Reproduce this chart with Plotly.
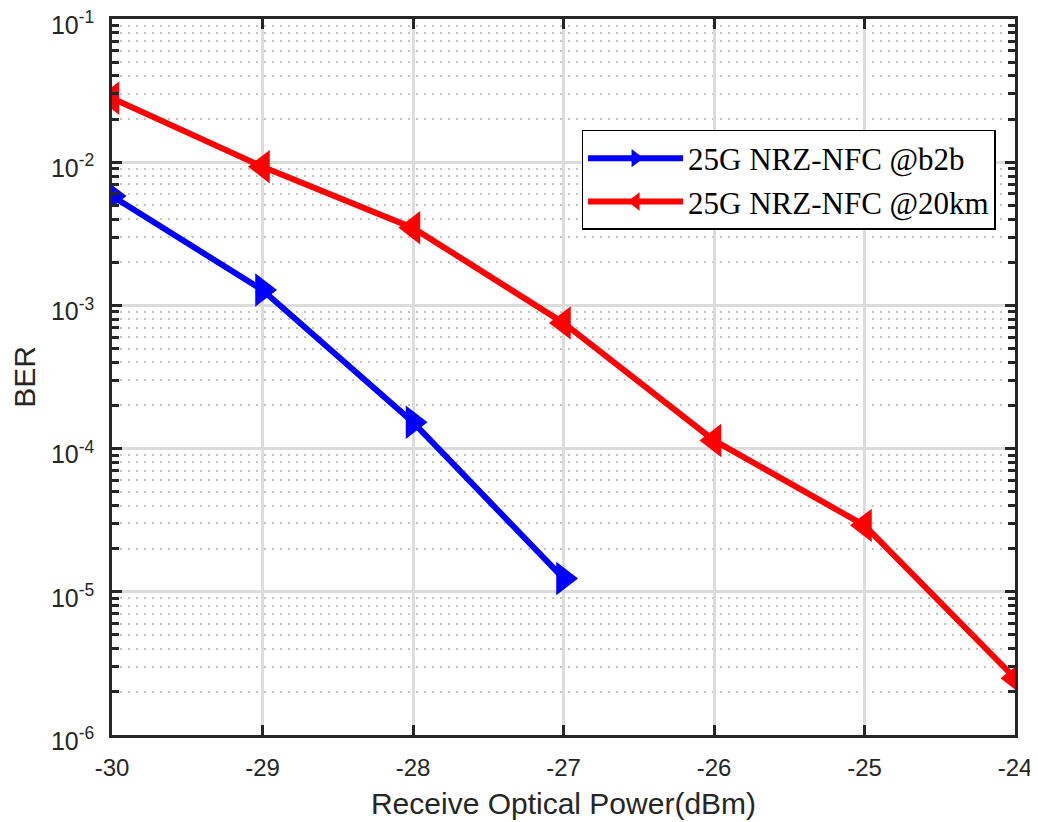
import plotly.graph_objects as go

power = [-30, -29, -28, -27, -26, -25, -24]
ber_b2b = [5.8e-3, 1.28e-3, 1.53e-4, 1.24e-5]
ber_20km = [2.8e-2, 9.3e-3, 3.48e-3, 7.55e-4, 1.14e-4, 2.91e-5, 2.49e-6]
name_b2b = "25G NRZ-NFC @b2b"
name_20km = "25G NRZ-NFC @20km"
y_major = [1e-6, 1e-5, 1e-4, 1e-3, 1e-2, 1e-1]
y_major_text = ["10<sup>-6</sup>", "10<sup>-5</sup>", "10<sup>-4</sup>", "10<sup>-3</sup>", "10<sup>-2</sup>", "10<sup>-1</sup>"]
y_minor = [m * d for d in [1e-6, 1e-5, 1e-4, 1e-3, 1e-2] for m in range(2, 10)]

axcol = "#262626"
fig = go.Figure()
fig.add_trace(go.Scatter(x=power[:len(ber_b2b)], y=ber_b2b, name=name_b2b, mode="lines+markers",
                         line=dict(color="#0000ff", width=6),
                         marker=dict(symbol="triangle-right", size=29, color="#0000ff")))
fig.add_trace(go.Scatter(x=power, y=ber_20km, name=name_20km, mode="lines+markers",
                         line=dict(color="#ff0000", width=6),
                         marker=dict(symbol="triangle-left", size=29, color="#ff0000")))

fig.update_layout(
    width=1030, height=814,
    margin=dict(l=104, r=23, t=11, b=87),
    paper_bgcolor="white", plot_bgcolor="white",
    font=dict(family="Liberation Sans, Arial", color=axcol, size=25),
    showlegend=True,
    legend=dict(x=0.52, y=0.845, xanchor="left", yanchor="top",
                bgcolor="white", bordercolor="#000000", borderwidth=1.5,
                font=dict(family="Liberation Serif, Times New Roman", size=31, color="black"),
                itemwidth=95, tracegroupgap=0),
)
fig.update_xaxes(
    range=[-30, -24], tickvals=power, ticktext=[str(p) for p in power],
    showline=True, linecolor=axcol, linewidth=2.5, mirror="ticks",
    ticks="inside", ticklen=10, tickwidth=2.5, tickcolor=axcol,
    showgrid=True, gridcolor="#dcdcdc", gridwidth=2.5,
    zeroline=False, automargin=False, ticklabelstandoff=9, ticklabeloverflow="allow",
    tickfont=dict(size=24, color=axcol),
    title=dict(text="Receive Optical Power(dBm)", font=dict(size=30, color=axcol), standoff=14),
)
fig.update_yaxes(
    type="log", range=[-6, -1], tickvals=y_major, ticktext=y_major_text,
    showline=True, linecolor=axcol, linewidth=2.5, mirror="ticks",
    ticks="inside", ticklen=10, tickwidth=2.5, tickcolor=axcol,
    showgrid=True, gridcolor="#dcdcdc", gridwidth=2.5,
    zeroline=False, automargin=False, ticklabelstandoff=10, ticklabeloverflow="allow",
    ticklabelshift=6,
    tickfont=dict(size=25, color=axcol),
    minor=dict(tickvals=y_minor, ticks="inside", ticklen=7, tickwidth=2.5, tickcolor=axcol,
               showgrid=True, gridcolor="#c4c4c4", griddash="2px,6px", gridwidth=2),
    title=dict(text="BER", font=dict(size=30, color=axcol), standoff=22),
)
fig.write_html("out.html")
